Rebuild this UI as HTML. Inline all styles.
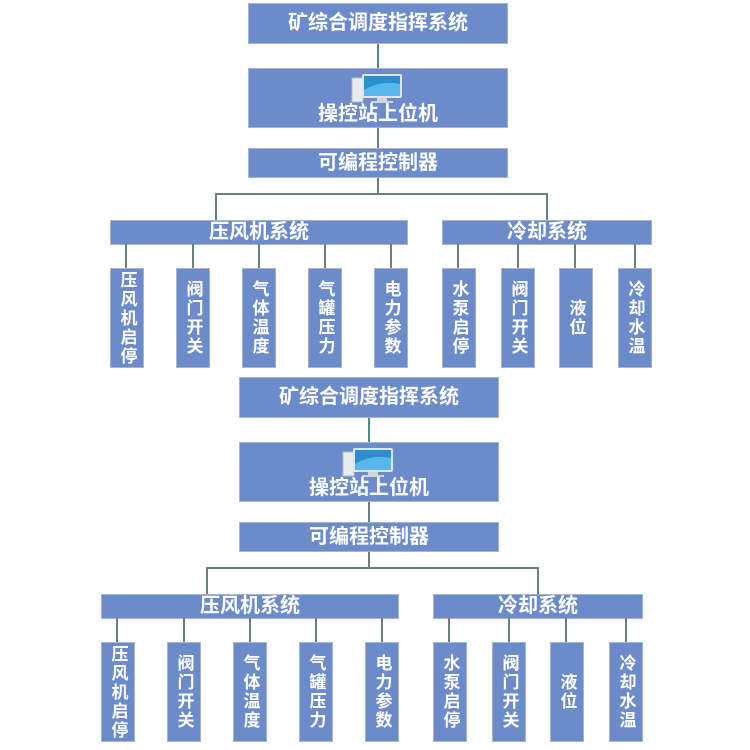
<!DOCTYPE html>
<html><head><meta charset="utf-8"><style>
body{margin:0;background:#fff;width:750px;height:750px;overflow:hidden;position:relative;font-family:"Liberation Sans","Noto Sans CJK SC",sans-serif;}
.d{position:absolute;left:0;top:0;width:750px;height:375px;}
.b{position:absolute;background:#6c8bcb;border:1px solid #aab4c8;box-sizing:border-box;color:#fff;font-weight:bold;text-align:center;}
.t{font-size:20px;}
.l{position:absolute;background:#6b7f80;}
.v{width:2px;}
.h{height:2px;}
.f{font-size:17px;line-height:19px;display:flex;align-items:center;justify-content:center;writing-mode:vertical-rl;text-orientation:upright;letter-spacing:2px;}
</style></head><body>
<div class="d" id="top">
<div class="l v" style="left:377px;top:44px;height:26px;background:#4f8c86"></div>
<div class="l v" style="left:377px;top:128px;height:22px"></div>
<div class="l v" style="left:377px;top:177px;height:18px"></div>
<div class="l h" style="left:215px;top:193px;width:333px"></div>
<div class="l v" style="left:215px;top:193px;height:28px"></div>
<div class="l v" style="left:546px;top:193px;height:28px"></div>
<div class="b t" style="left:248px;top:3px;width:260px;height:41px;line-height:39px">矿综合调度指挥系统</div>
<div class="b t" style="left:248px;top:68px;width:260px;height:60px">
<svg style="position:absolute;left:101px;top:3px" width="56" height="32" viewBox="0 0 56 32"><rect x="2" y="6" width="11" height="24" fill="#e8ecef" stroke="#b8bec4"/><rect x="12" y="2" width="40" height="24" rx="2" fill="#dfe5ea"/><rect x="14" y="4" width="36" height="20" fill="#2a8fd0"/><path d="M14 18 Q30 8 50 12 L50 24 L14 24Z" fill="#58b8ea"/><rect x="27" y="26" width="10" height="3" fill="#cfd5da"/><rect x="21" y="29" width="22" height="2" fill="#cfd5da"/></svg>
<div style="position:absolute;left:0;right:0;top:33px;line-height:24px">操控站上位机</div></div>
<div class="b t" style="left:248px;top:148px;width:260px;height:30px;line-height:28px">可编程控制器</div>
<div class="b t" style="left:110px;top:220px;width:298px;height:25px;line-height:23px">压风机系统</div>
<div class="b t" style="left:442px;top:220px;width:210px;height:25px;line-height:23px">冷却系统</div>
<div class="l v" style="left:125px;top:244px;height:24px"></div>
<div class="l v" style="left:192px;top:244px;height:24px"></div>
<div class="l v" style="left:258px;top:244px;height:24px"></div>
<div class="l v" style="left:324px;top:244px;height:24px"></div>
<div class="l v" style="left:390px;top:244px;height:24px"></div>
<div class="l v" style="left:457px;top:244px;height:24px"></div>
<div class="l v" style="left:517px;top:244px;height:24px"></div>
<div class="l v" style="left:574px;top:244px;height:24px"></div>
<div class="l v" style="left:634px;top:244px;height:24px"></div>
<div class="b f" style="left:110px;top:268px;width:34px;height:100px">压风机启停</div>
<div class="b f" style="left:176px;top:268px;width:34px;height:100px">阀门开关</div>
<div class="b f" style="left:242px;top:268px;width:34px;height:100px">气体温度</div>
<div class="b f" style="left:308px;top:268px;width:34px;height:100px">气罐压力</div>
<div class="b f" style="left:374px;top:268px;width:34px;height:100px">电力参数</div>
<div class="b f" style="left:442px;top:268px;width:34px;height:100px">水泵启停</div>
<div class="b f" style="left:501px;top:268px;width:34px;height:100px">阀门开关</div>
<div class="b f" style="left:559px;top:268px;width:34px;height:100px">液位</div>
<div class="b f" style="left:618px;top:268px;width:34px;height:100px">冷却水温</div>
</div>
<div class="d" style="transform:translate(-9px,374px)">
<div class="l v" style="left:377px;top:44px;height:26px;background:#4f8c86"></div>
<div class="l v" style="left:377px;top:128px;height:22px"></div>
<div class="l v" style="left:377px;top:177px;height:18px"></div>
<div class="l h" style="left:215px;top:193px;width:333px"></div>
<div class="l v" style="left:215px;top:193px;height:28px"></div>
<div class="l v" style="left:546px;top:193px;height:28px"></div>
<div class="b t" style="left:248px;top:3px;width:260px;height:41px;line-height:39px">矿综合调度指挥系统</div>
<div class="b t" style="left:248px;top:68px;width:260px;height:60px">
<svg style="position:absolute;left:101px;top:3px" width="56" height="32" viewBox="0 0 56 32"><rect x="2" y="6" width="11" height="24" fill="#e8ecef" stroke="#b8bec4"/><rect x="12" y="2" width="40" height="24" rx="2" fill="#dfe5ea"/><rect x="14" y="4" width="36" height="20" fill="#2a8fd0"/><path d="M14 18 Q30 8 50 12 L50 24 L14 24Z" fill="#58b8ea"/><rect x="27" y="26" width="10" height="3" fill="#cfd5da"/><rect x="21" y="29" width="22" height="2" fill="#cfd5da"/></svg>
<div style="position:absolute;left:0;right:0;top:33px;line-height:24px">操控站上位机</div></div>
<div class="b t" style="left:248px;top:148px;width:260px;height:30px;line-height:28px">可编程控制器</div>
<div class="b t" style="left:110px;top:220px;width:298px;height:25px;line-height:23px">压风机系统</div>
<div class="b t" style="left:442px;top:220px;width:210px;height:25px;line-height:23px">冷却系统</div>
<div class="l v" style="left:125px;top:244px;height:24px"></div>
<div class="l v" style="left:192px;top:244px;height:24px"></div>
<div class="l v" style="left:258px;top:244px;height:24px"></div>
<div class="l v" style="left:324px;top:244px;height:24px"></div>
<div class="l v" style="left:390px;top:244px;height:24px"></div>
<div class="l v" style="left:457px;top:244px;height:24px"></div>
<div class="l v" style="left:517px;top:244px;height:24px"></div>
<div class="l v" style="left:574px;top:244px;height:24px"></div>
<div class="l v" style="left:634px;top:244px;height:24px"></div>
<div class="b f" style="left:110px;top:268px;width:34px;height:100px">压风机启停</div>
<div class="b f" style="left:176px;top:268px;width:34px;height:100px">阀门开关</div>
<div class="b f" style="left:242px;top:268px;width:34px;height:100px">气体温度</div>
<div class="b f" style="left:308px;top:268px;width:34px;height:100px">气罐压力</div>
<div class="b f" style="left:374px;top:268px;width:34px;height:100px">电力参数</div>
<div class="b f" style="left:442px;top:268px;width:34px;height:100px">水泵启停</div>
<div class="b f" style="left:501px;top:268px;width:34px;height:100px">阀门开关</div>
<div class="b f" style="left:559px;top:268px;width:34px;height:100px">液位</div>
<div class="b f" style="left:618px;top:268px;width:34px;height:100px">冷却水温</div>
</div>
</body></html>
